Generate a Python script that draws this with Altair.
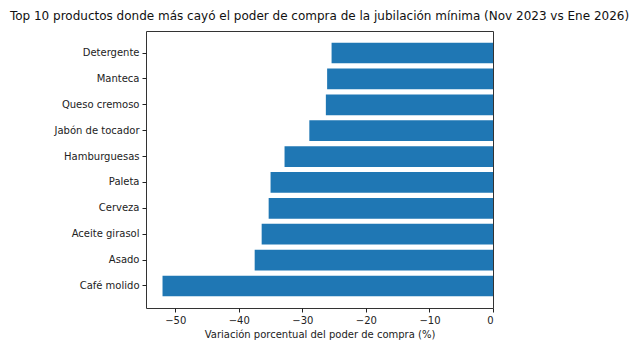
import altair as alt
import pandas as pd

productos = ["Detergente", "Manteca", "Queso cremoso", "Jabón de tocador", "Hamburguesas",
             "Paleta", "Cerveza", "Aceite girasol", "Asado", "Café molido"]
variacion = [-25.4, -26.1, -26.3, -28.9, -32.8, -35.0, -35.3, -36.4, -37.5, -52.0]
ticks_x = [-50, -40, -30, -20, -10, 0]

df = pd.DataFrame({"producto": productos, "variacion": variacion})

FONT = "DejaVu Sans"

chart = alt.Chart(df).mark_bar(color="#1f77b4").encode(
    x=alt.X("variacion:Q",
            scale=alt.Scale(domain=[-54.6, 0], nice=False, zero=False),
            axis=alt.Axis(values=ticks_x, title="Variación porcentual del poder de compra (%)",
                          grid=False, tickSize=4, labelPadding=3, titlePadding=4,
                          domain=False, labelFontSize=10, titleFontSize=10,
                          titleFontWeight="normal", labelColor="#222", titleColor="#222",
                          tickColor="#222", labelFont=FONT, titleFont=FONT)),
    y=alt.Y("producto:N", sort=productos,
            scale=alt.Scale(paddingInner=0.2, paddingOuter=0.45),
            axis=alt.Axis(title=None, grid=False, tickSize=4, labelPadding=3,
                          domain=False, labelFontSize=10, labelColor="#222",
                          tickColor="#222", labelFont=FONT)),
).properties(
    width=347,
    height=277,
    title=alt.TitleParams("Top 10 productos donde más cayó el poder de compra de la jubilación mínima (Nov 2023 vs Ene 2026)",
                          fontSize=12, fontWeight="normal", font=FONT, color="#111",
                          anchor="middle", offset=8),
    autosize=alt.AutoSizeParams(type="none"),
    padding={"left": 146, "top": 31, "right": 148, "bottom": 49},
).configure_view(stroke="#333", strokeWidth=1)

chart.save("out.html", embed_options={"renderer": "svg", "actions": False})
